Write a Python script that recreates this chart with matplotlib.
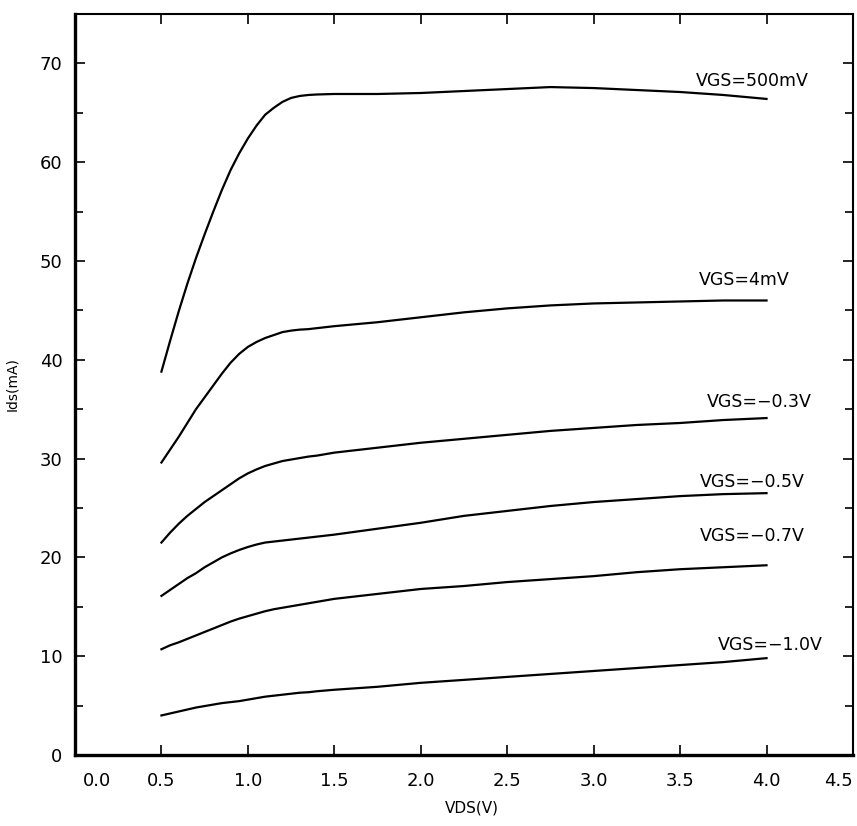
import matplotlib
matplotlib.use("Agg")
import matplotlib.pyplot as plt
import matplotlib.transforms as mtransforms

# VDS sample points (V), denser around the knee
vds = [0.5, 0.55, 0.6, 0.65, 0.7, 0.75, 0.8, 0.85, 0.9, 0.95, 1.0, 1.05, 1.1, 1.15,
       1.2, 1.25, 1.3, 1.35, 1.4, 1.5, 1.75, 2.0, 2.25, 2.5, 2.75, 3.0, 3.25, 3.5,
       3.75, 4.0]

# Ids (mA), one list per VGS
ids_500mV = [38.8, 41.9, 44.9, 47.7, 50.3, 52.7, 55.0, 57.2, 59.2, 60.9, 62.4, 63.7, 64.8, 65.5,
             66.1, 66.5, 66.7, 66.8, 66.85, 66.9, 66.9, 67.0, 67.2, 67.4, 67.6, 67.5, 67.3, 67.1,
             66.8, 66.4]
ids_4mV = [29.6, 30.9, 32.2, 33.6, 35.0, 36.2, 37.4, 38.6, 39.7, 40.6, 41.3, 41.8, 42.2, 42.5,
           42.8, 42.95, 43.05, 43.1, 43.2, 43.4, 43.8, 44.3, 44.8, 45.2, 45.5, 45.7, 45.8, 45.9,
           46.0, 46.0]
ids_m03 = [21.5, 22.5, 23.4, 24.2, 24.9, 25.6, 26.2, 26.8, 27.4, 28.0, 28.5, 28.9, 29.25, 29.5,
           29.75, 29.9, 30.05, 30.2, 30.3, 30.6, 31.1, 31.6, 32.0, 32.4, 32.8, 33.1, 33.4, 33.6,
           33.9, 34.1]
ids_m05 = [16.1, 16.7, 17.3, 17.9, 18.4, 19.0, 19.5, 20.0, 20.4, 20.75, 21.05, 21.3, 21.5, 21.6,
           21.7, 21.8, 21.9, 22.0, 22.1, 22.3, 22.9, 23.5, 24.2, 24.7, 25.2, 25.6, 25.9, 26.2,
           26.4, 26.5]
ids_m07 = [10.7, 11.1, 11.4, 11.75, 12.1, 12.45, 12.8, 13.15, 13.5, 13.8, 14.05, 14.3, 14.55, 14.75,
           14.9, 15.05, 15.2, 15.35, 15.5, 15.8, 16.3, 16.8, 17.1, 17.5, 17.8, 18.1, 18.5, 18.8,
           19.0, 19.2]
ids_m10 = [4.0, 4.2, 4.4, 4.6, 4.8, 4.95, 5.1, 5.25, 5.35, 5.45, 5.6, 5.75, 5.9, 6.0,
           6.1, 6.2, 6.3, 6.35, 6.45, 6.6, 6.9, 7.3, 7.6, 7.9, 8.2, 8.5, 8.8, 9.1,
           9.4, 9.8]

curves = [ids_500mV, ids_4mV, ids_m03, ids_m05, ids_m07, ids_m10]
labels = ["VGS=500mV", "VGS=4mV", "VGS=\u22120.3V", "VGS=\u22120.5V",
          "VGS=\u22120.7V", "VGS=\u22121.0V"]
# where each curve label sits (VDS, Ids)
label_pos = [(3.92, 68.2), (3.87, 48.1), (3.96, 35.7), (3.92, 27.6),
             (3.92, 22.2), (4.02, 11.1)]

xticks = [0.0, 0.5, 1.0, 1.5, 2.0, 2.5, 3.0, 3.5, 4.0, 4.5]
yticks = [0, 10, 20, 30, 40, 50, 60, 70]

plt.rcParams['font.family'] = ['DejaVu Sans']

fig = plt.figure(figsize=(8.57, 8.26), dpi=100)
ax = fig.add_axes([0.0875, 0.086, 0.9078, 0.8971])

for ids in curves:
    ax.plot(vds, ids, color="black", linewidth=1.6, solid_joinstyle="round")

for text, (x, y) in zip(labels, label_pos):
    ax.text(x, y, text, ha="center", va="center", fontsize=12.5)

ax.set_xlim(0, 4.5)
ax.set_ylim(0, 75)

ax.set_xticks(xticks)
ax.set_xticklabels(["{:.1f}".format(t) for t in xticks])
ax.set_yticks(yticks)
ax.set_yticks([5, 15, 25, 35, 45, 55, 65], minor=True)

ax.tick_params(axis="both", which="both", direction="in", top=True, right=True,
               labelsize=13, width=1.2)
ax.tick_params(axis="both", which="major", length=7)
ax.tick_params(axis="both", which="minor", length=6)
ax.tick_params(axis="x", pad=12)
ax.tick_params(axis="y", pad=9)

# nudge end labels inward like the original plot
xl = ax.get_xticklabels()
xl[0].set_ha("left")
xl[0].set_transform(xl[0].get_transform() + mtransforms.ScaledTranslation(6 / 72, 0, fig.dpi_scale_trans))
xl[-1].set_ha("right")

ax.spines["left"].set_linewidth(2.4)
ax.spines["bottom"].set_linewidth(2.4)
ax.spines["top"].set_linewidth(1.5)
ax.spines["right"].set_linewidth(1.5)

ax.set_xlabel("VDS(V)", fontsize=11)
ax.set_ylabel("Ids(mA)", fontsize=10)
ax.xaxis.set_label_coords(0.51, -0.062)
ax.yaxis.set_label_coords(-0.072, 0.5)

fig.savefig("out.png", dpi=100)
